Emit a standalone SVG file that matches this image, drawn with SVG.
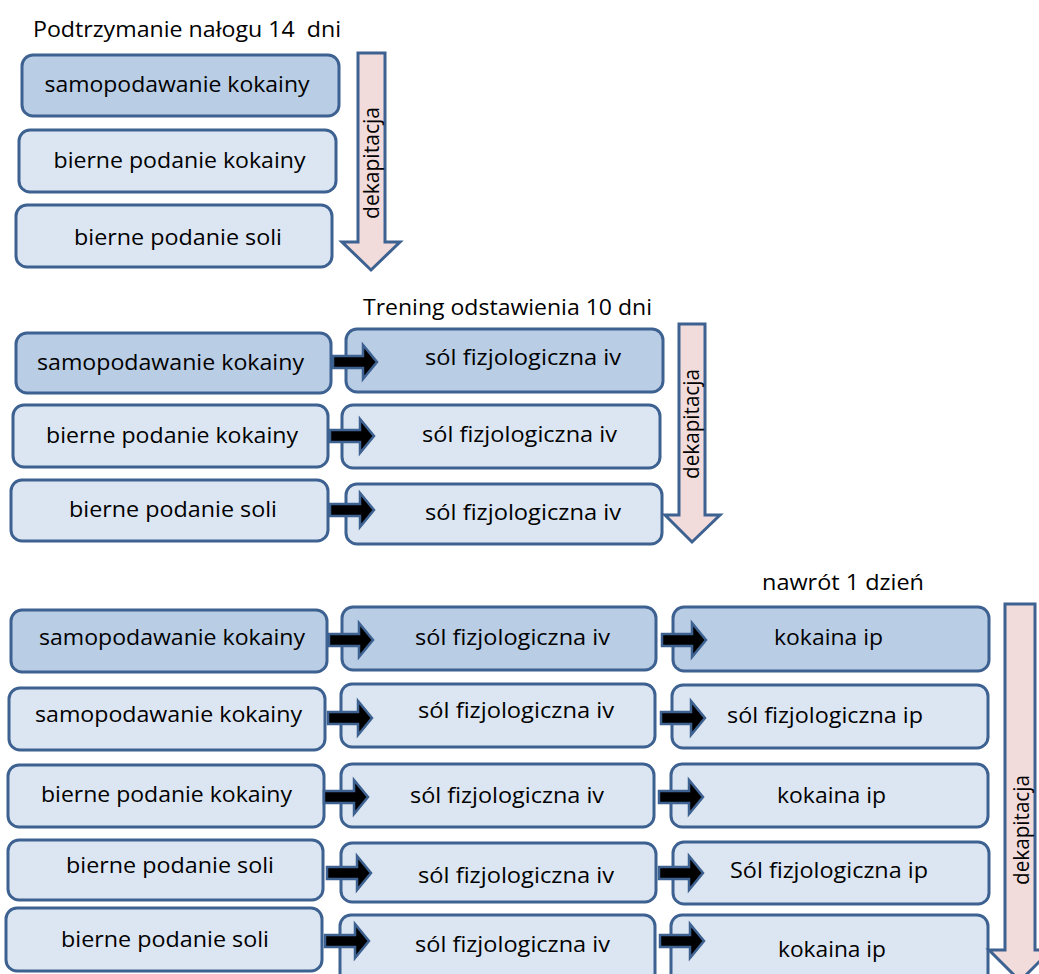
<svg xmlns="http://www.w3.org/2000/svg" xmlns:xlink="http://www.w3.org/1999/xlink" width="1039" height="974" viewBox="0 0 1039 974">
<style>
text{font-family:"Open Sans","Liberation Sans",sans-serif;font-size:22px;fill:#000}
.c{text-anchor:middle}
.pre{white-space:pre}
.dk{fill:#b9cde5;stroke:#3d6190;stroke-width:3}
.lt{fill:#dce6f2;stroke:#3d6190;stroke-width:3}
.big{fill:#f2dcdb;stroke:#3d6190;stroke-width:3;stroke-linejoin:miter}
.sa{fill:#000;stroke:#3d6190;stroke-width:2.5;stroke-linejoin:miter}
</style>
<defs>
<path id="ar" d="M0,-6 H30 V-17 L44,0 L30,17 V6 H0 Z"/>
</defs>
<rect width="1039" height="974" fill="#fff"/>

<!-- Section 1 -->
<text id="t1" x="33" y="37" class="pre" textLength="308" lengthAdjust="spacingAndGlyphs">Podtrzymanie nałogu 14  dni</text>
<g id="s1b1"><rect class="dk" x="22" y="55" width="317" height="61" rx="11"/><text class="c" x="177" y="92" textLength="265" lengthAdjust="spacingAndGlyphs">samopodawanie kokainy</text></g>
<g id="s1b2"><rect class="lt" x="19" y="130" width="317" height="62" rx="11"/><text class="c" x="179.5" y="168" textLength="252" lengthAdjust="spacingAndGlyphs">bierne podanie kokainy</text></g>
<g id="s1b3"><rect class="lt" x="16" y="205" width="316" height="62" rx="11"/><text class="c" x="178" y="245" textLength="208" lengthAdjust="spacingAndGlyphs">bierne podanie soli</text></g>
<g id="s1arrow"><path class="big" d="M358,53 H385 V242 H400 L371,270 L342,242 H358 Z"/><text class="c" transform="translate(379,163) rotate(-90)" textLength="112" lengthAdjust="spacingAndGlyphs">dekapitacja</text></g>

<!-- Section 2 -->
<text id="t2" x="363" y="315" textLength="289" lengthAdjust="spacingAndGlyphs">Trening odstawienia 10 dni</text>
<g id="s2r1l"><rect class="dk" x="16" y="333" width="315" height="60" rx="11"/><text class="c" x="170.5" y="370" textLength="267" lengthAdjust="spacingAndGlyphs">samopodawanie kokainy</text></g>
<g id="s2r1r"><rect class="dk" x="346" y="329" width="317" height="63" rx="11"/><text class="c" x="523" y="365" textLength="196" lengthAdjust="spacingAndGlyphs">sól fizjologiczna iv</text></g>
<g id="s2r2l"><rect class="lt" x="13" y="405" width="315" height="62" rx="11"/><text class="c" x="172" y="443" textLength="252" lengthAdjust="spacingAndGlyphs">bierne podanie kokainy</text></g>
<g id="s2r2r"><rect class="lt" x="342" y="405" width="318" height="63" rx="11"/><text class="c" x="519.5" y="442" textLength="195" lengthAdjust="spacingAndGlyphs">sól fizjologiczna iv</text></g>
<g id="s2r3l"><rect class="lt" x="11" y="480" width="317" height="61" rx="11"/><text class="c" x="173" y="517" textLength="208" lengthAdjust="spacingAndGlyphs">bierne podanie soli</text></g>
<g id="s2r3r"><rect class="lt" x="346" y="484" width="316" height="60" rx="11"/><text class="c" x="523" y="520" textLength="196" lengthAdjust="spacingAndGlyphs">sól fizjologiczna iv</text></g>
<g id="s2arrow"><path class="big" d="M679,324 H705 V515 H720 L692,542 L665,515 H679 Z"/><text class="c" transform="translate(699,424) rotate(-90)" textLength="110" lengthAdjust="spacingAndGlyphs">dekapitacja</text></g>

<!-- Section 3 -->
<text id="t3" x="762" y="590" textLength="162" lengthAdjust="spacingAndGlyphs">nawrót 1 dzień</text>
<g id="s3r1l"><rect class="dk" x="11" y="610" width="316" height="62" rx="11"/><text class="c" x="172" y="645" textLength="266" lengthAdjust="spacingAndGlyphs">samopodawanie kokainy</text></g>
<g id="s3r1m"><rect class="dk" x="342" y="607" width="314" height="63" rx="11"/><text class="c" x="512.5" y="645" textLength="195" lengthAdjust="spacingAndGlyphs">sól fizjologiczna iv</text></g>
<g id="s3r1r"><rect class="dk" x="673" y="607" width="316" height="64" rx="11"/><text class="c" x="828.5" y="645" textLength="109" lengthAdjust="spacingAndGlyphs">kokaina ip</text></g>

<g id="s3r2l"><rect class="lt" x="9" y="688" width="316" height="62" rx="11"/><text class="c" x="168.5" y="722" textLength="267" lengthAdjust="spacingAndGlyphs">samopodawanie kokainy</text></g>
<g id="s3r2m"><rect class="lt" x="341" y="684" width="314" height="63" rx="11"/><text class="c" x="516" y="718" textLength="196" lengthAdjust="spacingAndGlyphs">sól fizjologiczna iv</text></g>
<g id="s3r2r"><rect class="lt" x="672" y="685" width="316" height="63" rx="11"/><text class="c" x="825" y="723" textLength="196" lengthAdjust="spacingAndGlyphs">sól fizjologiczna ip</text></g>

<g id="s3r3l"><rect class="lt" x="8" y="765" width="316" height="62" rx="11"/><text class="c" x="166.5" y="802" textLength="251" lengthAdjust="spacingAndGlyphs">bierne podanie kokainy</text></g>
<g id="s3r3m"><rect class="lt" x="341" y="764" width="313" height="63" rx="11"/><text class="c" x="507" y="803" textLength="194" lengthAdjust="spacingAndGlyphs">sól fizjologiczna iv</text></g>
<g id="s3r3r"><rect class="lt" x="671" y="764" width="317" height="63" rx="11"/><text class="c" x="831.5" y="803" textLength="109" lengthAdjust="spacingAndGlyphs">kokaina ip</text></g>

<g id="s3r4l"><rect class="lt" x="8" y="840" width="315" height="60" rx="11"/><text class="c" x="170" y="873" textLength="208" lengthAdjust="spacingAndGlyphs">bierne podanie soli</text></g>
<g id="s3r4m"><rect class="lt" x="341" y="843" width="315" height="59" rx="11"/><text class="c" x="516" y="883" textLength="196" lengthAdjust="spacingAndGlyphs">sól fizjologiczna iv</text></g>
<g id="s3r4r"><rect class="lt" x="673" y="842" width="316" height="62" rx="11"/><text class="c" x="829" y="878" textLength="198" lengthAdjust="spacingAndGlyphs">Sól fizjologiczna ip</text></g>

<g id="s3r5l"><rect class="lt" x="6" y="908" width="316" height="63" rx="11"/><text class="c" x="165" y="947" textLength="208" lengthAdjust="spacingAndGlyphs">bierne podanie soli</text></g>
<g id="s3r5m"><rect class="lt" x="340" y="915" width="315" height="70" rx="11"/><text class="c" x="512.5" y="952" textLength="195" lengthAdjust="spacingAndGlyphs">sól fizjologiczna iv</text></g>
<g id="s3r5r"><rect class="lt" x="671" y="915" width="317" height="70" rx="11"/><text class="c" x="832" y="957" textLength="108" lengthAdjust="spacingAndGlyphs">kokaina ip</text></g>

<g id="s3arrow"><path class="big" d="M1005,604 H1035 V950 H1051 L1020,981 L989,950 H1005 Z"/><text class="c" transform="translate(1029,830) rotate(-90)" textLength="110" lengthAdjust="spacingAndGlyphs">dekapitacja</text></g>

<!-- Connectors -->
<g id="connectors">
<use href="#ar" class="sa" x="333" y="362"/>
<use href="#ar" class="sa" x="330" y="436"/>
<use href="#ar" class="sa" x="330" y="510"/>
<use href="#ar" class="sa" x="329" y="640"/>
<use href="#ar" class="sa" x="662" y="640"/>
<use href="#ar" class="sa" x="328" y="718"/>
<use href="#ar" class="sa" x="661" y="718"/>
<use href="#ar" class="sa" x="324" y="797"/>
<use href="#ar" class="sa" x="659" y="797"/>
<use href="#ar" class="sa" x="327" y="873"/>
<use href="#ar" class="sa" x="659" y="873"/>
<use href="#ar" class="sa" x="325" y="941"/>
<use href="#ar" class="sa" x="660" y="941"/>
</g>
</svg>
